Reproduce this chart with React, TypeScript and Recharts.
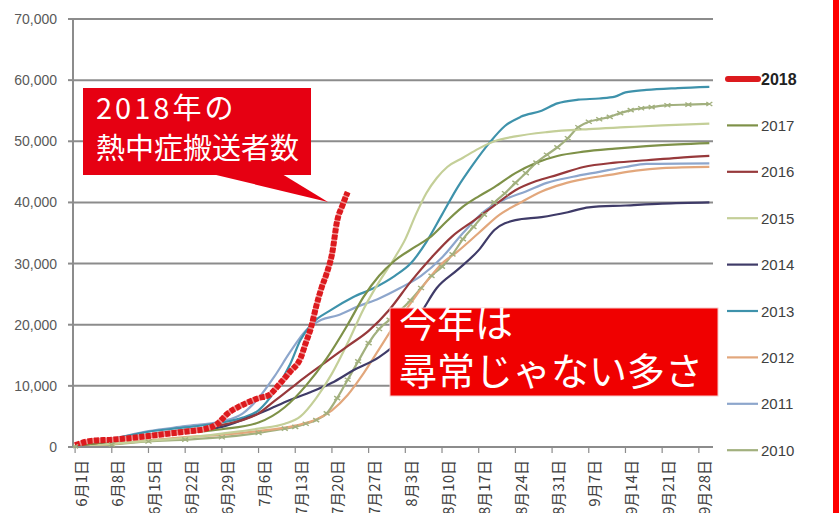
import React from 'react';
import { LineChart, Line, XAxis, YAxis, CartesianGrid, Legend } from 'recharts';

// x = day index counted from 6月1日 (0)
const tickDays = [0, 7, 14, 21, 28, 35, 42, 49, 56, 63, 70, 77, 84, 91, 98, 105, 112, 119];
const tickLabels = ['6月1日', '6月8日', '6月15日', '6月22日', '6月29日', '7月6日', '7月13日', '7月20日', '7月27日', '8月3日', '8月10日', '8月17日', '8月24日', '8月31日', '9月7日', '9月14日', '9月21日', '9月28日'];
const yTicks = [0, 10000, 20000, 30000, 40000, 50000, 60000, 70000];

const s2018: [number, number][] = [[0,300],[3,1000],[7,1200],[12,1600],[17,2100],[21,2500],[25,3000],[27,3700],[28,4500],[29,5400],[31,6500],[33,7300],[35,8000],[37,8500],[39,10300],[41,12300],[43,14500],[44,17000],[45,19500],[46,23000],[47,26000],[48,28400],[49,31500],[50,37000],[51,39500],[52,41700]];
const s2017: [number, number][] = [[0,200],[7,900],[14,1700],[21,2300],[28,2900],[35,4000],[40,6500],[44,10000],[48,14500],[52,20000],[55,24500],[58,28000],[61,30500],[65,32800],[68,34500],[71,37000],[74,39300],[77,41000],[80,42500],[84,44800],[88,46500],[92,47600],[97,48300],[103,48800],[109,49200],[115,49500],[121,49700]];
const s2016: [number, number][] = [[0,200],[7,1000],[14,2000],[21,2800],[28,3600],[35,5500],[38,7500],[41,9500],[44,11500],[48,14000],[52,16500],[56,19000],[60,22500],[64,27000],[68,31000],[72,34500],[76,37000],[80,39500],[84,42000],[88,43500],[92,44500],[97,45800],[103,46500],[109,46900],[115,47300],[121,47600]];
const s2015: [number, number][] = [[0,100],[7,500],[14,1000],[21,1500],[28,2200],[35,3000],[40,3800],[43,5000],[46,8000],[49,12000],[52,17000],[55,22500],[58,27000],[61,31000],[63,34000],[65,38000],[67,41500],[69,44000],[71,45800],[74,47300],[77,48800],[80,50000],[84,50800],[90,51500],[98,52000],[105,52300],[112,52600],[121,52900]];
const s2014: [number, number][] = [[0,200],[7,900],[14,1900],[21,2600],[28,3300],[33,4800],[36,5800],[41,7700],[45,9000],[49,10500],[53,12500],[58,14700],[62,17500],[66,22000],[69,26000],[73,29000],[77,32200],[80,35500],[84,37100],[89,37600],[94,38400],[98,39200],[105,39500],[112,39800],[121,40000]];
const s2013: [number, number][] = [[0,300],[7,1300],[14,2500],[21,3200],[28,4000],[32,4800],[35,6000],[38,9000],[41,13500],[43,17500],[45,20000],[49,22500],[53,24500],[57,26000],[61,28000],[64,30000],[67,33500],[70,38000],[73,42500],[76,46300],[79,49700],[82,52500],[85,54000],[89,55000],[92,56200],[96,56800],[100,57000],[103,57300],[105,58000],[109,58400],[115,58700],[121,58900]];
const s2012: [number, number][] = [[0,100],[7,500],[14,1100],[21,1600],[28,2000],[35,2600],[42,3500],[46,4500],[49,6000],[52,8500],[55,12000],[58,16000],[61,20000],[64,23500],[67,27000],[70,30000],[73,32000],[77,35000],[81,38000],[85,40000],[89,41800],[93,43000],[97,43800],[102,44500],[107,45200],[112,45600],[121,45800]];
const s2011: [number, number][] = [[0,300],[7,1300],[14,2600],[21,3400],[28,4200],[32,5500],[35,8000],[38,11500],[41,15500],[44,19000],[47,20800],[50,21500],[54,23000],[58,24300],[62,26000],[66,28000],[70,31000],[74,35000],[78,38500],[82,40500],[86,41800],[90,43200],[95,44200],[100,45000],[105,45800],[109,46300],[121,46400]];
const s2010: [number, number][] = [[0,100],[7,400],[14,900],[21,1200],[28,1600],[35,2300],[40,3000],[42,3300],[44,3800],[46,4400],[48,5500],[50,8000],[52,11000],[54,14000],[56,17000],[58,19300],[60,20800],[62,22300],[64,24000],[66,26000],[68,28000],[70,29500],[72,31500],[74,34000],[76,36000],[78,38000],[80,40000],[82,41500],[84,43200],[86,44800],[88,46500],[90,47800],[92,49000],[94,50500],[96,52300],[98,53200],[100,53600],[102,54000],[104,54600],[106,55100],[108,55400],[110,55600],[113,55900],[117,56000],[121,56100]];

const years = ['2018', '2017', '2016', '2015', '2014', '2013', '2012', '2011', '2010'];
const colors: Record<string, string> = {
  '2018': '#DC1A1E',
  '2017': '#7E9148',
  '2016': '#97393B',
  '2015': '#C4CF98',
  '2014': '#3F3B68',
  '2013': '#3E92AB',
  '2012': '#E2A77C',
  '2011': '#8DA6CC',
  '2010': '#A2B07E',
};

const toData = (pairs: [number, number][]) => pairs.map(([d, v]) => ({ d, v }));

const XTick = (props: any) => {
  const { x, y, payload } = props;
  const idx = tickDays.indexOf(payload.value);
  const label = idx >= 0 ? tickLabels[idx] : '';
  const tx = x + 5;
  const ty = y + 5;
  return (
    <text
      x={tx}
      y={ty}
      transform={`rotate(-90 ${tx} ${ty})`}
      textAnchor="end"
      dominantBaseline="central"
      fontSize={15}
      fill="#404040"
      fontFamily="'Noto Sans CJK JP', sans-serif"
    >
      {label}
    </text>
  );
};

const CrossDot = (props: any) => {
  const { cx, cy, index } = props;
  if (cx == null || cy == null) return <g key={`c-${index}`} />;
  return (
    <path
      key={`c-${index}`}
      d={`M${cx - 3},${cy - 2} L${cx + 3},${cy + 2} M${cx - 3},${cy + 2} L${cx + 3},${cy - 2}`}
      stroke={colors['2010']}
      strokeWidth={1.4}
      fill="none"
    />
  );
};

const renderLegend = () => (
  <svg width={115} height={420}>
    {years.map((yr, i) => {
      const cy = 19 + i * 46.4;
      const is18 = yr === '2018';
      return (
        <g key={yr}>
          <line
            x1={is18 ? 10 : 9}
            x2={40}
            y1={cy}
            y2={cy}
            stroke={colors[yr]}
            strokeWidth={is18 ? 6 : 2.2}
            strokeLinecap={is18 ? 'round' : 'butt'}
          />
          <text
            x={43}
            y={cy}
            dominantBaseline="central"
            fontSize={is18 ? 16 : 15}
            fontWeight={is18 ? 'bold' : 'normal'}
            fill={is18 ? '#222' : '#404040'}
            fontFamily="'Liberation Sans', Arial, sans-serif"
          >
            {yr}
          </text>
        </g>
      );
    })}
  </svg>
);

const lineOrder: [string, [number, number][]][] = [
  ['2010', s2010],
  ['2011', s2011],
  ['2012', s2012],
  ['2013', s2013],
  ['2014', s2014],
  ['2015', s2015],
  ['2016', s2016],
  ['2017', s2017],
];

export default function App() {
  return (
    <div style={{ position: 'absolute', left: 0, top: 0, width: 839, height: 513, background: '#fff', overflow: 'hidden' }}>
      <LineChart width={839} height={513} margin={{ top: 19, right: 126, bottom: 0, left: 0 }}>
        <CartesianGrid vertical={false} stroke="#8C8C8C" strokeWidth={2} />
        <XAxis
          type="number"
          dataKey="d"
          domain={[-0.4, 121.7]}
          allowDataOverflow
          ticks={tickDays}
          interval={0}
          height={66}
          tick={<XTick />}
          tickSize={6}
          axisLine={{ stroke: '#8C8C8C', strokeWidth: 2 }}
          tickLine={{ stroke: '#8C8C8C', strokeWidth: 1.2 }}
        />
        <YAxis
          type="number"
          domain={[0, 70000]}
          ticks={yTicks}
          interval={0}
          width={73}
          tickSize={5}
          tickMargin={11}
          tickFormatter={(v: number) => v.toLocaleString('en-US')}
          tick={{ fontSize: 14, fill: '#595959', fontFamily: "'Liberation Sans', Arial, sans-serif" }}
          axisLine={{ stroke: '#8C8C8C', strokeWidth: 2 }}
          tickLine={{ stroke: '#8C8C8C', strokeWidth: 2 }}
        />
        <Legend
          layout="horizontal"
          verticalAlign="middle"
          align="center"
          content={renderLegend}
          wrapperStyle={{ position: 'absolute', left: 718, top: 60, width: 115, height: 420 }}
        />
        {lineOrder.map(([yr, pairs]) => (
          <Line
            key={yr}
            name={yr}
            data={toData(pairs)}
            dataKey="v"
            type="monotone"
            stroke={colors[yr]}
            strokeWidth={2.2}
            dot={yr === '2010' ? CrossDot : false}
            activeDot={false}
            isAnimationActive={false}
          />
        ))}
        <Line
          name="2018base"
          data={toData(s2018)}
          dataKey="v"
          type="monotone"
          stroke="#F08A8A"
          strokeWidth={5}
          dot={false}
          activeDot={false}
          legendType="none"
          isAnimationActive={false}
        />
        <Line
          name="2018"
          data={toData(s2018)}
          dataKey="v"
          type="monotone"
          stroke={colors['2018']}
          strokeWidth={6}
          strokeDasharray="5 1.5"
          dot={false}
          activeDot={false}
          isAnimationActive={false}
        />
      </LineChart>
      <svg
        width={839}
        height={513}
        style={{ position: 'absolute', left: 0, top: 0, pointerEvents: 'none' }}
      >
        <polygon points="212,174 282,174 328,202" fill="#E60012" />
        <rect x={83} y={88} width={228} height={87} fill="#E60012" />
        <text x={96} y={119} fontSize={29} letterSpacing={3} fill="#fff" fontFamily="'Noto Sans CJK JP', sans-serif">2018年の</text>
        <text x={96} y={159} fontSize={29} fill="#fff" fontFamily="'Noto Sans CJK JP', sans-serif">熱中症搬送者数</text>
        <rect x={390} y={308} width={328} height={88} fill="#F00000" stroke="#F6C8C8" strokeWidth={1} />
        <text x={399} y={337} fontSize={38} fill="#fff" fontFamily="'Noto Sans CJK JP', sans-serif">今年は</text>
        <text x={399} y={385} fontSize={38} fill="#fff" fontFamily="'Noto Sans CJK JP', sans-serif">尋常じゃない多さ</text>
        <rect x={833} y={0} width={6} height={513} fill="#FF0000" />
      </svg>
    </div>
  );
}
